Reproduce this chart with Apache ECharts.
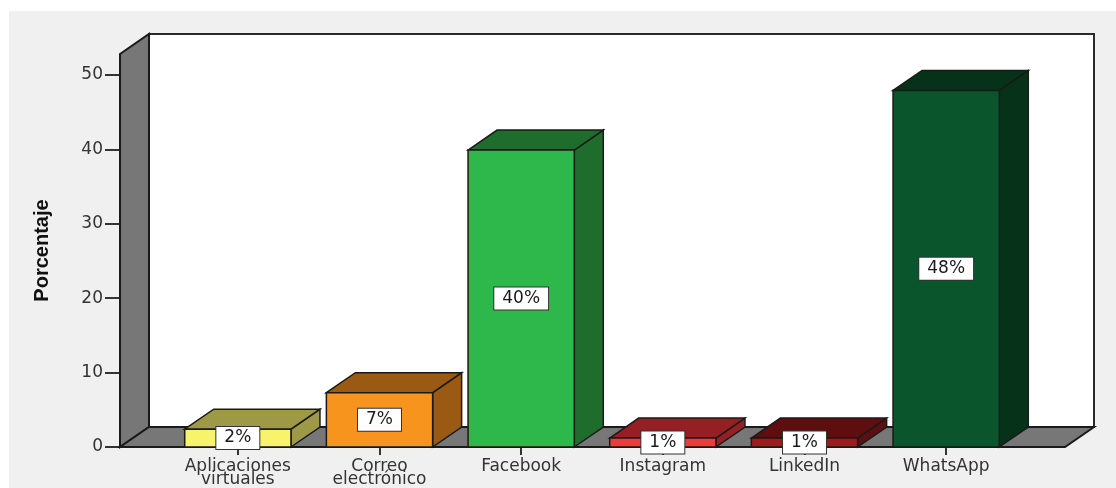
<!DOCTYPE html>
<html>
<head>
<meta charset="utf-8">
<script src="https://cdn.jsdelivr.net/npm/echarts@6/dist/echarts.min.js"></script>
<style>
  html, body { margin: 0; padding: 0; background: #ffffff; }
  #bg { position: absolute; left: 9px; top: 11px; right: 0; bottom: 0; background: #f0f0f0; }
  #chart { position: absolute; left: 0; top: 0; width: 1116px; height: 488px; }
</style>
</head>
<body>
<div id="bg"></div>
<div id="chart"></div>
<script>
// ---- data ----
const categories = ['Aplicaciones\nvirtuales', 'Correo\nelectrónico', 'Facebook', 'Instagram', 'LinkedIn', 'WhatsApp'];
const values = [2.4, 7.3, 39.9, 1.2, 1.2, 47.9];
const valueLabels = ['2%', '7%', '40%', '1%', '1%', '48%'];
const yTicks = [0, 10, 20, 30, 40, 50];
const yMax = 52.8;
const axisName = 'Porcentaje';

// ---- styles ----
const frontColors = ['#f8f36c', '#f7941e', '#2eb84b', '#ef3a3c', '#a01a1c', '#0b552c'];
const sideColors  = ['#9d9947', '#9b5a13', '#1e6d2c', '#951f22', '#5e0e0f', '#063219'];
const DX = 29, DY = 20;          // depth of the 3D effect
const WALL_LEFT_GAP = 47;        // distance from grid left to front edge of left wall
const FLOOR_RIGHT_GAP = 48;      // floor extends beyond grid right
const EDGE = '#1a1a1a';

const chart = echarts.init(document.getElementById('chart'), null, { renderer: 'canvas' });

function wallsItem(params, api) {
  const cs = params.coordSys;
  const left = cs.x - WALL_LEFT_GAP;
  const right = cs.x + cs.width + FLOOR_RIGHT_GAP;
  const top = cs.y;
  const bottom = api.coord([0, 0])[1];
  return {
    type: 'group',
    children: [
      { type: 'rect', shape: { x: left + DX, y: top - DY, width: right - left, height: bottom - top },
        style: { fill: '#ffffff', stroke: '#2a2a2a', lineWidth: 2 } },
      { type: 'polygon', shape: { points: [[left, top], [left + DX, top - DY], [left + DX, bottom - DY], [left, bottom]] },
        style: { fill: '#777777', stroke: EDGE, lineWidth: 2 } },
      { type: 'polygon', shape: { points: [[left, bottom], [left + DX, bottom - DY], [right + DX, bottom - DY], [right, bottom]] },
        style: { fill: '#777777', stroke: EDGE, lineWidth: 2 } }
    ]
  };
}

function barItem(params, api) {
  const idx = api.value(0);
  const val = api.value(1);
  const base = api.coord([idx, 0]);
  const top = api.coord([idx, val]);
  const bw = api.size([1, 0])[0] * 0.75;
  const x0 = base[0] - bw / 2, x1 = base[0] + bw / 2;
  const yb = base[1], yt = top[1];
  const i = params.dataIndex;
  const lw = 1.5;
  return {
    type: 'group',
    children: [
      { type: 'polygon', shape: { points: [[x1, yb], [x1 + DX, yb - DY], [x1 + DX, yt - DY], [x1, yt]] },
        style: { fill: sideColors[i], stroke: EDGE, lineWidth: lw } },
      { type: 'polygon', shape: { points: [[x0, yt], [x0 + DX, yt - DY], [x1 + DX, yt - DY], [x1, yt]] },
        style: { fill: sideColors[i], stroke: EDGE, lineWidth: lw } },
      { type: 'rect', shape: { x: x0, y: yt, width: bw, height: yb - yt },
        style: { fill: frontColors[i], stroke: EDGE, lineWidth: lw } },
      { type: 'text', x: base[0], y: (yt + yb) / 2,
        style: { text: valueLabels[i], align: 'center', verticalAlign: 'middle',
                 fontFamily: 'DejaVu Sans', fontSize: 17, fill: '#1a1a1a',
                 backgroundColor: '#ffffff', borderColor: '#333333', borderWidth: 1,
                 padding: [3, 8, 2, 8] } }
    ]
  };
}

chart.setOption({
  animation: false,
  backgroundColor: 'transparent',
  grid: { left: 167, top: 54, width: 850, height: 396 },
  xAxis: {
    type: 'category',
    data: categories,
    axisLine: { show: false },
    axisTick: { show: true, alignWithLabel: true, length: 8, lineStyle: { color: '#333', width: 2 } },
    axisLabel: { color: '#333', fontFamily: 'DejaVu Sans', fontSize: 17, lineHeight: 13, margin: 13, interval: 0 },
    splitLine: { show: false }
  },
  yAxis: {
    type: 'value',
    min: 0, max: yMax, interval: 10,
    offset: WALL_LEFT_GAP,
    name: axisName,
    nameLocation: 'middle',
    nameGap: 68,
    nameTextStyle: { fontFamily: 'Liberation Sans', fontWeight: 'bold', fontSize: 20, color: '#111' },
    axisLine: { show: false },
    axisTick: { show: true, length: 15, customValues: yTicks, lineStyle: { color: '#333', width: 2 } },
    axisLabel: { color: '#333', fontFamily: 'DejaVu Sans', fontSize: 17, margin: 17, customValues: yTicks },
    splitLine: { show: false }
  },
  series: [
    { type: 'custom', z: 1, silent: true, renderItem: wallsItem, data: [[0, 0]], clip: false },
    { type: 'custom', z: 3, renderItem: barItem, data: values.map((v, i) => [i, v]), clip: false }
  ]
});
</script>
</body>
</html>
